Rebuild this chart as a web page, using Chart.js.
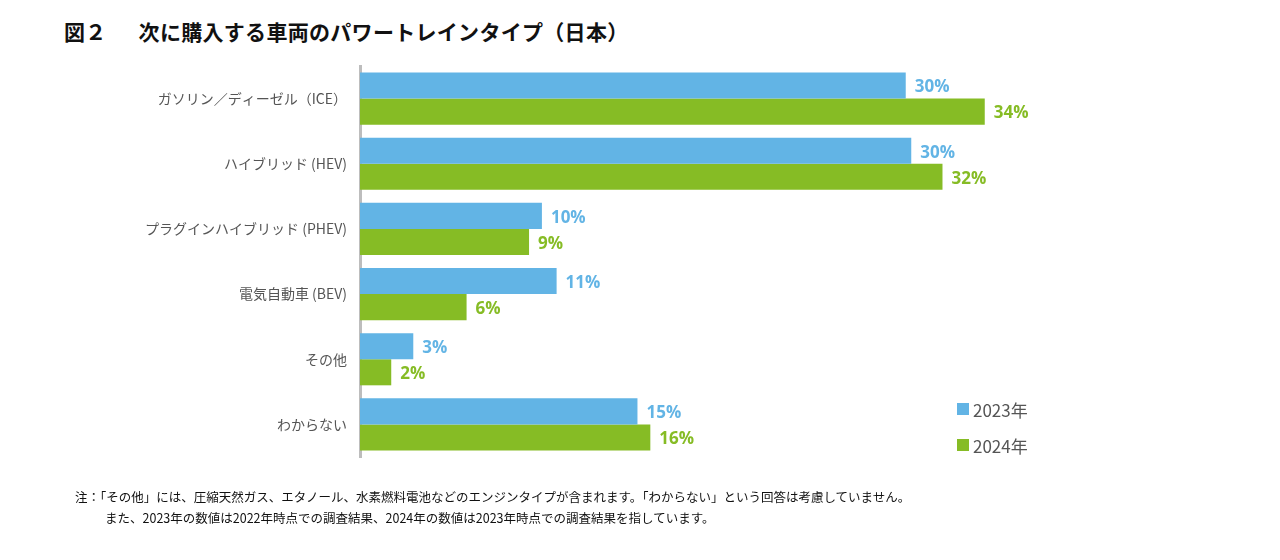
<!DOCTYPE html>
<html lang="ja">
<head>
<meta charset="utf-8">
<script src="https://cdn.jsdelivr.net/npm/chart.js@4"></script>
<style>
  html, body { margin: 0; padding: 0; background: #fff; }
  body { width: 1280px; height: 560px; position: relative; overflow: hidden;
         font-family: "Noto Sans CJK JP", "Noto Sans", sans-serif; }
  #title { position: absolute; left: 64px; top: 16px; font-size: 21px; font-weight: bold; color: #111; letter-spacing: 0.3px; }
  #title .gap { display: inline-block; width: 32px; }
  #wrap { position: absolute; left: 0; top: 0; width: 1280px; height: 560px; }
  #legend { position: absolute; left: 957px; top: 397px; font-size: 17px; color: #555; }
  #legend div { display: flex; align-items: center; height: 24px; margin-bottom: 12px; }
  #legend span.box { width: 12px; height: 12px; margin-right: 4px; display: inline-block; }
  #note { position: absolute; left: 75px; top: 486px; font-size: 12.5px; color: #111; line-height: 21px; }
  #note .l2 { padding-left: 30px; }
</style>
</head>
<body>
<div id="title">図２<span class="gap"></span>次に購入する車両のパワートレインタイプ（日本）</div>
<div id="wrap"><canvas id="chart" width="1280" height="560"></canvas></div>
<div id="legend"></div>
<div id="note">
  <div>注：「その他」には、圧縮天然ガス、エタノール、水素燃料電池などのエンジンタイプが含まれます。「わからない」という回答は考慮していません。</div>
  <div class="l2">また、2023年の数値は2022年時点での調査結果、2024年の数値は2023年時点での調査結果を指しています。</div>
</div>
<script>
// ---- データ ----
const categories = ["ガソリン／ディーゼル（ICE）", "ハイブリッド (HEV)", "プラグインハイブリッド (PHEV)", "電気自動車 (BEV)", "その他", "わからない"];
const seriesNames = ["2023年", "2024年"];
const values2023 = [29.7, 30.0, 9.9, 10.7, 2.9, 15.1];
const values2024 = [34.0, 31.7, 9.2, 5.8, 1.7, 15.8];
const colors = ["#62b4e5", "#86bc25"];

// バーの右に % を描く
const valueLabels = {
  id: "valueLabels",
  afterDatasetsDraw(chart) {
    const ctx = chart.ctx;
    ctx.save();
    ctx.font = "bold 17px 'Open Sans', sans-serif";
    ctx.textBaseline = "middle";
    ctx.textAlign = "left";
    chart.data.datasets.forEach((ds, i) => {
      ctx.fillStyle = ds.backgroundColor;
      chart.getDatasetMeta(i).data.forEach((bar, j) => {
        ctx.fillText(Math.round(ds.data[j]) + "%", bar.x + 9, bar.y + 2);
      });
    });
    ctx.restore();
  }
};

new Chart(document.getElementById("chart"), {
  type: "bar",
  data: {
    labels: categories,
    datasets: [
      { label: seriesNames[0], data: values2023, backgroundColor: colors[0] },
      { label: seriesNames[1], data: values2024, backgroundColor: colors[1] }
    ]
  },
  options: {
    indexAxis: "y",
    responsive: false,
    animation: false,
    layout: { padding: { left: 0, top: 66, bottom: 103, right: 185 } },
    datasets: { bar: { barPercentage: 1, categoryPercentage: 0.8 } },
    plugins: { legend: { display: false }, tooltip: { enabled: false } },
    scales: {
      x: { min: 0, max: 40, display: false },
      y: {
        afterFit(scale) { scale.width = 360; },
        grid: { display: false, drawTicks: false },
        border: { color: "#bdbdbd", width: 3 },
        ticks: { padding: 13, color: "#555", font: { size: 14, family: "'Noto Sans CJK JP', sans-serif" } }
      }
    }
  },
  plugins: [valueLabels]
});

// 凡例
document.getElementById("legend").innerHTML = seriesNames.map((n, i) =>
  `<div><span class="box" style="background:${colors[i]}"></span>${n}</div>`
).join("");
</script>
</body>
</html>
